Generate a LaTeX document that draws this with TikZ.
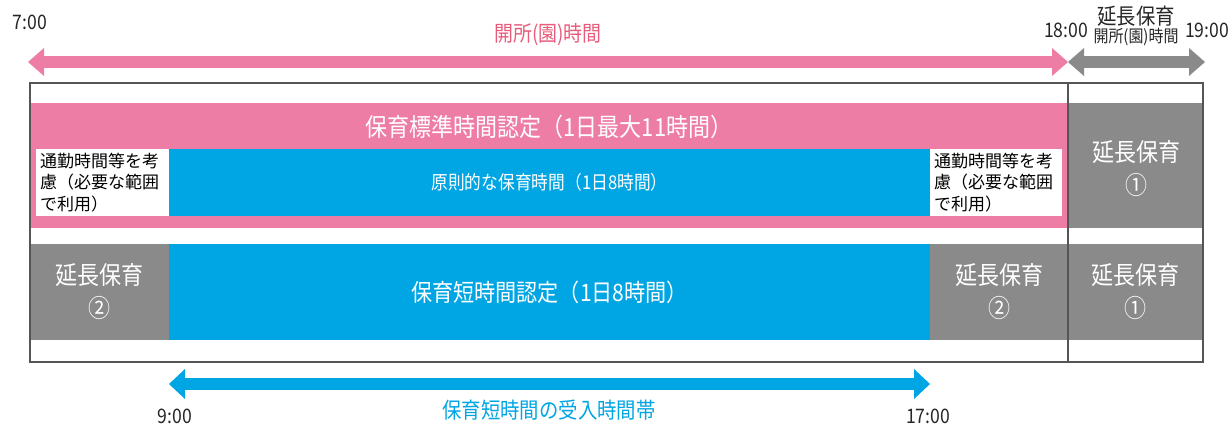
\documentclass[tikz,border=0pt]{standalone}
\usepackage{fontspec}
\setmainfont[FakeStretch=0.88]{Noto Sans CJK JP}
\newfontfamily\jpn{Noto Sans CJK JP}
\usetikzlibrary{arrows.meta}
\definecolor{pk}{HTML}{EE7DA6}
\definecolor{pktext}{HTML}{E85B7B}
\definecolor{bl}{HTML}{00A5E3}
\definecolor{gr}{HTML}{8A8A8A}
\definecolor{bd}{HTML}{555555}
\newcommand{\fs}[1]{\fontsize{#1}{#1}\selectfont}
\tikzset{
  box/.style={anchor=north west, inner sep=0pt, outer sep=0pt},
  wt/.style={text=white, align=center},
  gtext/.style={text=white, align=center, font=\fontsize{25}{33}\selectfont},
  wbox/.style={anchor=west, align=left, font=\jpn\fontsize{17}{21.5}\selectfont, inner sep=0pt, text=black},
  tm/.style={font=\fs{20}, text=black!85},
  harrow/.style={line width=12pt, {Triangle[length=16pt,width=28pt,line width=0pt]}-{Triangle[length=16pt,width=28pt,line width=0pt]}},
}
\begin{document}
\begin{tikzpicture}[x=1pt,y=-1pt]
\useasboundingbox (0,0) rectangle (1231,428);
% top labels
\node[tm] (t7) at (30,22) {7:00};
\node[tm] (t18) at (1066,30) {18:00};
\node[tm] (t19) at (1207,30) {19:00};
\node[text=pktext, font=\fs{21.5}] (lopen) at (548,35) {開所(園)時間};
\node[text=black!85, font=\fs{22}] (lext) at (1136,16) {延長保育};
\node[text=black!85, font=\fs{17}] (lext2) at (1136,37) {開所(園)時間};
% top arrows
\coordinate (p7) at (28,62);
\coordinate (p18) at (1068,62);
\coordinate (p19) at (1205,62);
\draw[harrow, draw=pk, fill=pk] (p7) -- (p18);
\draw[harrow, draw=gr, fill=gr] (p18) -- (p19);
% upper row
\node[box, fill=pk, minimum width=1038pt, minimum height=125pt] (pinkbar) at (30,103) {};
\node[wt, font=\fs{25}] (hdr) at (549,127) {保育標準時間認定（1日最大11時間）};
\node[box, fill=bl, minimum width=761pt, minimum height=67pt] (blin) at (169,149) {};
\node[wt, font=\fs{19}] (blintext) at (blin.center) {原則的な保育時間（1日8時間）};
\node[box, fill=white, minimum width=133pt, minimum height=67pt] (wl) at (36,149) {};
\node[box, fill=white, minimum width=132pt, minimum height=67pt] (wr) at (930,149) {};
\node[wbox] (wltext) at (40,182.5) {通勤時間等を考\\慮（必要な範囲\\で利用）};
\node[wbox] (wrtext) at (934,182.5) {通勤時間等を考\\慮（必要な範囲\\で利用）};
\node[box, fill=gr, minimum width=135pt, minimum height=125pt] (g1top) at (1068,103) {};
\node[gtext] (g1toptext) at (1136,169) {延長保育\\①};
% lower row
\node[box, fill=gr, minimum width=139pt, minimum height=96pt] (g2l) at (30,244) {};
\node[gtext] (g2ltext) at (g2l.center) {延長保育\\②};
\node[box, fill=bl, minimum width=761pt, minimum height=96pt] (blbot) at (169,244) {};
\node[wt, font=\fs{24}] (blbottext) at (blbot.center) {保育短時間認定（1日8時間）};
\node[box, fill=gr, minimum width=138pt, minimum height=96pt] (g2r) at (930,244) {};
\node[gtext] (g2rtext) at (g2r.center) {延長保育\\②};
\node[box, fill=gr, minimum width=135pt, minimum height=96pt] (g1bot) at (1068,244) {};
\node[gtext] (g1bottext) at (g1bot.center) {延長保育\\①};
% frame
\node[box, draw=bd, line width=2pt, minimum width=1173pt, minimum height=279pt] (frame) at (30,83) {};
\coordinate (dtop) at (1068,83);
\coordinate (dbot) at (1068,362);
\draw[bd, line width=2pt] (dtop) -- (dbot);
% bottom arrow
\coordinate (p9) at (169,384);
\coordinate (p17) at (930,384);
\draw[line width=12pt, draw=bl, fill=bl, {Triangle[length=16pt,width=30pt,line width=0pt]}-{Triangle[length=16pt,width=30pt,line width=0pt]}] (p9) -- (p17);
\node[tm] (t9) at (175,416) {9:00};
\node[tm] (t17) at (928,416) {17:00};
\node[text=bl, font=\fs{22}] (lshort) at (549,410) {保育短時間の受入時間帯};
\end{tikzpicture}
\end{document}
